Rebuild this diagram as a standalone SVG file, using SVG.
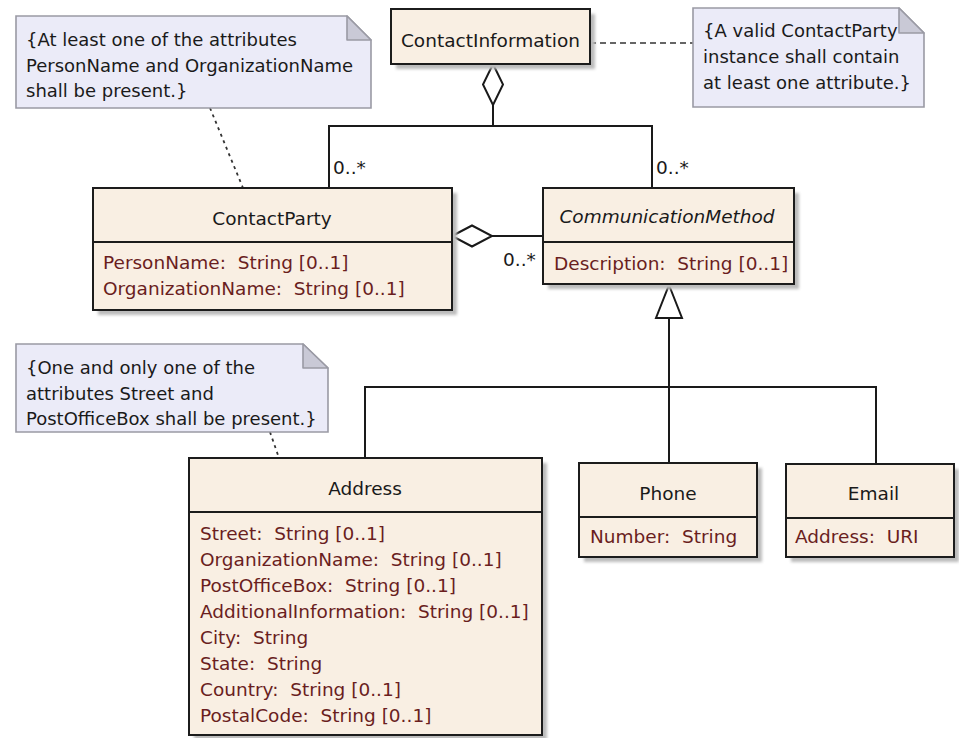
<svg xmlns="http://www.w3.org/2000/svg" width="959" height="738" viewBox="0 0 959 738">
<defs>
<filter id="blur" x="-10%" y="-10%" width="120%" height="120%"><feGaussianBlur stdDeviation="1.5"/></filter>
<style>
.box{fill:#f9efe3;stroke:#1c1c1c;stroke-width:2}
.shadow{fill:#bcbcbc;filter:url(#blur)}
.div{stroke:#1c1c1c;stroke-width:2}
.note{fill:#ebebf8;stroke:#9a9aa4;stroke-width:1.6}
.fold{fill:#c9c9d6;stroke:#9a9aa4;stroke-width:1.6;stroke-linejoin:round}
.t{font-family:"DejaVu Sans",Verdana,sans-serif;font-size:18.5px;fill:#1a1a1a}
.title{text-anchor:middle}
.it{font-style:italic}
.attr{fill:#6a1e1e;white-space:pre}
.nt{font-family:"DejaVu Sans",Verdana,sans-serif;font-size:18px;fill:#1a1a1a}
.line{fill:none;stroke:#1a1a1a;stroke-width:2}
.open{fill:#ffffff;stroke:#1a1a1a;stroke-width:2;stroke-linejoin:miter}
.dash{fill:none;stroke:#333;stroke-width:1.6;stroke-dasharray:6 4}
.dot{fill:none;stroke:#333;stroke-width:1.8;stroke-dasharray:3 4}
</style>
</defs>
<rect width="959" height="738" fill="#ffffff"/>

<g id="connectors">
<line class="dash" x1="590" y1="43" x2="693" y2="43"/>
<line class="dot" x1="210" y1="108" x2="243" y2="188"/>
<line class="dot" x1="270" y1="432" x2="279" y2="458"/>
<polyline class="line" points="493,105 493,126"/>
<polyline class="line" points="329,188 329,126 652,126 652,188"/>
<polygon class="open" points="493,64 503,84.5 493,105 483,84.5"/>
<line class="line" x1="492" y1="236" x2="543" y2="236"/>
<polygon class="open" points="452,236 472,225.5 492,236 472,246.5"/>
<line class="line" x1="669" y1="318" x2="669" y2="463"/>
<polyline class="line" points="365,458 365,387 876,387 876,464"/>
<polygon class="open" points="669,285 682,318 656,318"/>
<text class="t" x="333" y="174">0..*</text>
<text class="t" x="656" y="174">0..*</text>
<text class="t" x="503" y="266">0..*</text>
</g>

<g id="note-contactparty">
<path class="note" d="M16,16 H347 L371,40 V108 H16 Z"/>
<path class="fold" d="M347,16 V40 H371 Z"/>
<text class="nt" x="26" y="46">{At least one of the attributes</text>
<text class="nt" x="26" y="72">PersonName and OrganizationName</text>
<text class="nt" x="26" y="97">shall be present.}</text>
</g>

<g id="note-contactinformation">
<path class="note" d="M693,8 H899 L924,33 V107 H693 Z"/>
<path class="fold" d="M899,8 V33 H924 Z"/>
<text class="nt" x="703" y="37">{A valid ContactParty</text>
<text class="nt" x="703" y="63">instance shall contain</text>
<text class="nt" x="703" y="89">at least one attribute.}</text>
</g>

<g id="note-address">
<path class="note" d="M16,344 H303 L328,368 V432 H16 Z"/>
<path class="fold" d="M303,344 V368 H328 Z"/>
<text class="nt" x="26" y="374">{One and only one of the</text>
<text class="nt" x="26" y="400">attributes Street and</text>
<text class="nt" x="26" y="425">PostOfficeBox shall be present.}</text>
</g>

<g id="ContactInformation">
<rect class="shadow" x="396" y="14" width="199" height="55"/>
<rect class="box" x="391" y="9" width="199" height="55"/>
<text class="t title" x="490.5" y="47">ContactInformation</text>
</g>

<g id="ContactParty">
<rect class="shadow" x="98" y="193" width="359" height="122"/>
<rect class="box" x="93" y="188" width="359" height="122"/>
<line class="div" x1="93" y1="242" x2="452" y2="242"/>
<text class="t title" x="272" y="225">ContactParty</text>
<text class="t attr" x="103" y="269">PersonName:  String [0..1]</text>
<text class="t attr" x="103" y="295">OrganizationName:  String [0..1]</text>
</g>

<g id="CommunicationMethod">
<rect class="shadow" x="548" y="193" width="251" height="96"/>
<rect class="box" x="543" y="188" width="251" height="96"/>
<line class="div" x1="543" y1="242" x2="794" y2="242"/>
<text class="t title it" x="667" y="223">CommunicationMethod</text>
<text class="t attr" x="554" y="270">Description:  String [0..1]</text>
</g>

<g id="Address">
<rect class="shadow" x="194" y="463" width="353" height="277"/>
<rect class="box" x="189" y="458" width="353" height="277"/>
<line class="div" x1="189" y1="512" x2="542" y2="512"/>
<text class="t title" x="365" y="495">Address</text>
<text class="t attr" x="200" y="540">Street:  String [0..1]</text>
<text class="t attr" x="200" y="566">OrganizationName:  String [0..1]</text>
<text class="t attr" x="200" y="592">PostOfficeBox:  String [0..1]</text>
<text class="t attr" x="200" y="618">AdditionalInformation:  String [0..1]</text>
<text class="t attr" x="200" y="644">City:  String</text>
<text class="t attr" x="200" y="670">State:  String</text>
<text class="t attr" x="200" y="696">Country:  String [0..1]</text>
<text class="t attr" x="200" y="722">PostalCode:  String [0..1]</text>
</g>

<g id="Phone">
<rect class="shadow" x="584" y="468" width="178" height="94"/>
<rect class="box" x="579" y="463" width="178" height="94"/>
<line class="div" x1="579" y1="517" x2="757" y2="517"/>
<text class="t title" x="668" y="500">Phone</text>
<text class="t attr" x="590" y="543">Number:  String</text>
</g>

<g id="Email">
<rect class="shadow" x="791" y="469" width="168" height="93"/>
<rect class="box" x="786" y="464" width="168" height="93"/>
<line class="div" x1="786" y1="518" x2="954" y2="518"/>
<text class="t title" x="873.5" y="500">Email</text>
<text class="t attr" x="795" y="543">Address:  URI</text>
</g>
</svg>
